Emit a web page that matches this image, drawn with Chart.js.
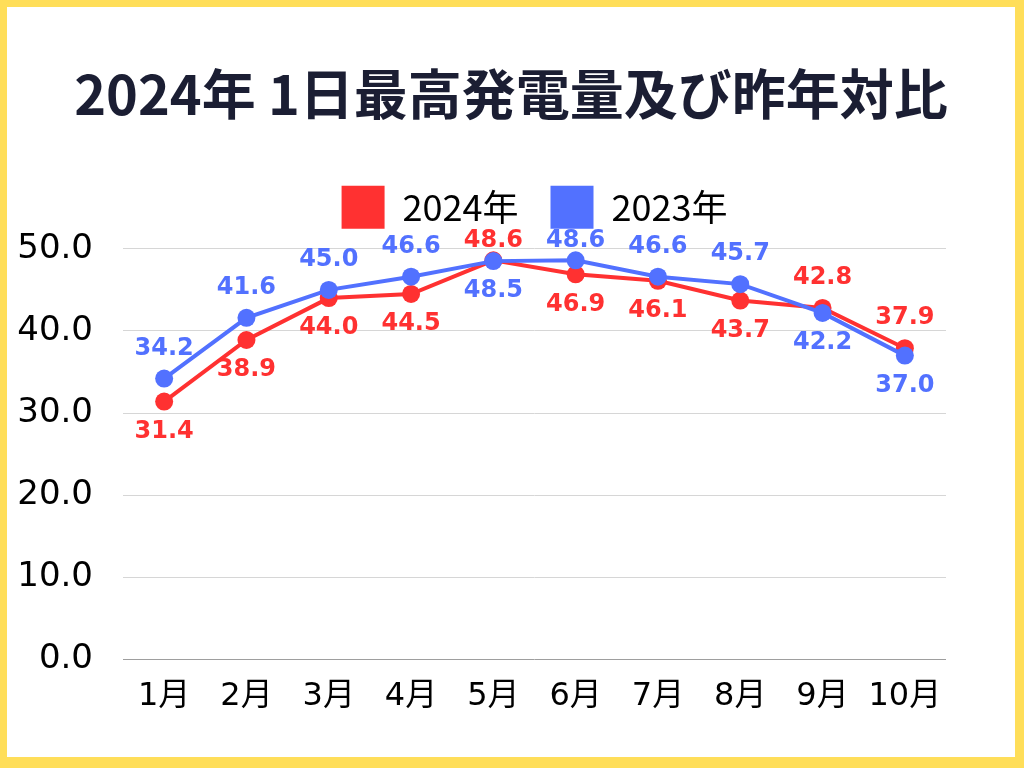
<!DOCTYPE html>
<html>
<head>
<meta charset="utf-8">
<script src="https://cdn.jsdelivr.net/npm/chart.js@4"></script>
<style>
    html, body { margin: 0; padding: 0; }
    body { width: 1024px; height: 768px; background: #FFDE59; position: relative; overflow: hidden; }
    #card { position: absolute; left: 7px; top: 7px; width: 1008px; height: 750px; background: #ffffff; }
    #chart { display: block; }
</style>
</head>
<body>
<div id="card"><canvas id="chart" width="1008" height="750"></canvas></div>
<script>
// ====================================
// DATA
// ====================================
const months = ['1月', '2月', '3月', '4月', '5月', '6月', '7月', '8月', '9月', '10月'];
const peak2024 = [31.4, 38.9, 44.0, 44.5, 48.6, 46.9, 46.1, 43.7, 42.8, 37.9];
const peak2023 = [34.2, 41.6, 45.0, 46.6, 48.5, 48.6, 46.6, 45.7, 42.2, 37.0];
const yTicks = [0, 10, 20, 30, 40, 50];

const RED = '#FF3131';
const BLUE = '#5271FF';
const NUM_FONT = "'DejaVu Sans', 'Noto Sans CJK JP', sans-serif";
const JP_FONT = "'Noto Sans CJK JP', sans-serif";

// value labels: higher series goes above its point, lower one below
const valueLabels = {
    id: 'valueLabels',
    afterDatasetsDraw(chart) {
        const ctx = chart.ctx;
        const sets = chart.data.datasets;
        const topLimit = chart.chartArea.top - 8;   // keep clear of the legend
        ctx.save();
        ctx.font = "bold 24px " + NUM_FONT;
        ctx.textAlign = 'center';
        ctx.textBaseline = 'middle';
        sets.forEach((ds, i) => {
            const other = sets[1 - i].data;
            const meta = chart.getDatasetMeta(i);
            meta.data.forEach((pt, j) => {
                const above = i === 0 ? ds.data[j] >= other[j] : ds.data[j] > other[j];
                const y = above ? Math.max(pt.y - 30, topLimit) : pt.y + 30;
                ctx.fillStyle = ds.borderColor;
                ctx.fillText(ds.data[j].toFixed(1), pt.x, y);
            });
        });
        ctx.restore();
    }
};

new Chart(document.getElementById('chart'), {
    type: 'line',
    data: {
        labels: months,
        datasets: [{
            label: '2024年',
            data: peak2024,
            borderColor: RED,
            backgroundColor: RED,
            borderWidth: 4,
            pointRadius: 9,
            pointBorderWidth: 0,
            order: 1
        }, {
            label: '2023年',
            data: peak2023,
            borderColor: BLUE,
            backgroundColor: BLUE,
            borderWidth: 4,
            pointRadius: 9,
            pointBorderWidth: 0,
            order: 0
        }]
    },
    options: {
        responsive: false,
        animation: false,
        layout: { padding: { left: 0, right: 0, top: 0, bottom: 31 } },
        plugins: {
            title: {
                display: true,
                text: '2024年 1日最高発電量及び昨年対比',
                color: '#1B1E33',
                font: { family: JP_FONT, size: 54, weight: 'bold' },
                padding: { top: 55, bottom: 27 }
            },
            legend: {
                display: true,
                fullSize: false,
                labels: {
                    boxWidth: 43,
                    boxHeight: 43,
                    color: '#000000',
                    font: { family: JP_FONT, size: 36 },
                    padding: 32,
                    sort: (a, b) => a.datasetIndex - b.datasetIndex,
                    generateLabels: (chart) => chart.data.datasets.map((ds, i) => ({
                        text: ds.label,
                        fillStyle: ds.borderColor,
                        strokeStyle: ds.borderColor,
                        lineWidth: 0,
                        datasetIndex: i
                    }))
                }
            },
            tooltip: { enabled: false }
        },
        scales: {
            x: {
                offset: true,
                grid: { display: false },
                border: { display: false },
                ticks: { color: '#000000', font: { family: NUM_FONT, size: 32 }, padding: 10 }
            },
            // empty gap between legend and plot
            xTop: {
                axis: 'x',
                position: 'top',
                afterFit: (scale) => { scale.height = 10; },
                grid: { display: false },
                border: { display: false },
                ticks: { display: false }
            },
            y: {
                min: 0,
                max: 50,
                afterBuildTicks: (scale) => { scale.ticks = yTicks.map(v => ({ value: v })); },
                afterFit: (scale) => { scale.width = 116; },
                grid: {
                    drawTicks: false,
                    lineWidth: 1,
                    color: (c) => c.tick && c.tick.value === 0 ? '#9E9E9E' : '#D6D6D6'
                },
                border: { display: false },
                ticks: {
                    color: '#000000',
                    font: { family: NUM_FONT, size: 34 },
                    padding: 30,
                    callback: (v) => Number(v).toFixed(1)
                }
            },
            // empty right-hand gutter
            yRight: {
                position: 'right',
                afterFit: (scale) => { scale.width = 69; },
                grid: { display: false },
                border: { display: false },
                ticks: { display: false }
            }
        }
    },
    plugins: [valueLabels]
});
</script>
</body>
</html>
